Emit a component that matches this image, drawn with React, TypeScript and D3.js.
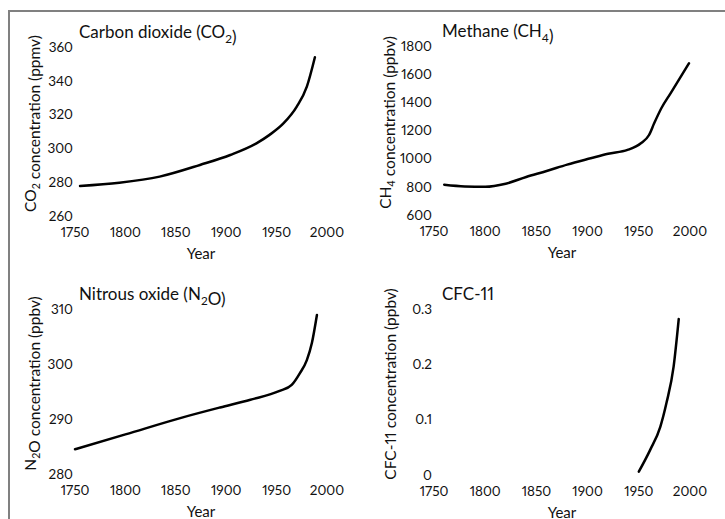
import React, { useEffect, useRef } from "react";
import * as d3 from "d3";

// values
const yearTicks = [1750, 1800, 1850, 1900, 1950, 2000];

const co2Years = [1755, 1794, 1834, 1874, 1904, 1930, 1943, 1957, 1970, 1980, 1988];
const co2Values = [277.8, 279.7, 283.3, 290.2, 296.1, 303, 308, 314.9, 324.7, 336.5, 353.9];
const co2Ticks = [260, 280, 300, 320, 340, 360];

const ch4Years = [1760, 1780, 1800, 1820, 1840, 1860, 1880, 1903, 1920, 1939, 1952, 1960, 1965, 1972, 1981, 1999];
const ch4Values = [815, 803, 800, 822, 870, 912, 958, 1003, 1035, 1062, 1109, 1168, 1251, 1358, 1464, 1677];
const ch4Ticks = [600, 800, 1000, 1200, 1400, 1600, 1800];

const n2oYears = [1750, 1800, 1857, 1894, 1924, 1953, 1965, 1973, 1980, 1985, 1990];
const n2oValues = [284.5, 287.2, 290.3, 292.1, 293.5, 295.1, 296.2, 298.3, 300.7, 303.8, 308.9];
const n2oTicks = [280, 290, 300, 310];

const cfcYears = [1950, 1961, 1971, 1977, 1984, 1989];
const cfcValues = [0.006, 0.045, 0.087, 0.13, 0.196, 0.282];
const cfcTicks = [0, 0.1, 0.2, 0.3];

const FONT = "Lato, 'Open Sans', sans-serif";

type Part = { t: string; sub?: boolean };

const App = () => {
  const svgRef = useRef<SVGSVGElement>(null);

  useEffect(() => {
    const svg = d3.select(svgRef.current);
    svg.selectAll("*").remove();

    // frame
    svg
      .append("path")
      .attr("d", "M9,519 L9,11 L725,11")
      .attr("fill", "none")
      .attr("stroke", "#808080")
      .attr("stroke-width", 2);

    const addRich = (sel: any, parts: Part[], size: number) => {
      parts.forEach((p) => {
        if (p.sub) {
          sel.append("tspan").attr("dy", size * 0.3).attr("font-size", size * 0.7).text(p.t);
          sel.append("tspan").attr("dy", -size * 0.3).attr("font-size", size).text("");
        } else {
          sel.append("tspan").attr("font-size", size).text(p.t);
        }
      });
    };

    const panel = (
      years: number[],
      values: number[],
      ticks: number[],
      xr: [number, number],
      yr: [number, number],
      titleX: number,
      yTitleX: number,
      title: Part[],
      yTitle: Part[]
    ) => {
      const x = d3.scaleLinear().domain([1750, 2000]).range(xr);
      const y = d3
        .scaleLinear()
        .domain([ticks[0], ticks[ticks.length - 1]])
        .range(yr);
      const g = svg
        .append("g")
        .attr("font-family", FONT)
        .attr("fill", "#111")
        .style("font-variant-numeric", "proportional-nums");

      g.selectAll(".ytick")
        .data(ticks)
        .join("text")
        .attr("x", xr[0] - 2)
        .attr("y", (d) => y(d))
        .attr("dy", "0.35em")
        .attr("text-anchor", "end")
        .attr("font-size", 13.5)
        .text((d) => String(d));

      g.selectAll(".xtick")
        .data(yearTicks)
        .join("text")
        .attr("x", (d) => x(d))
        .attr("y", yr[0] + 16)
        .attr("dy", "0.35em")
        .attr("text-anchor", "middle")
        .attr("font-size", 13.5)
        .text((d) => String(d));

      g.append("text")
        .attr("x", (xr[0] + xr[1]) / 2)
        .attr("y", yr[0] + 38)
        .attr("dy", "0.35em")
        .attr("text-anchor", "middle")
        .attr("font-size", 15)
        .text("Year");

      const t = g
        .append("text")
        .attr("x", titleX)
        .attr("y", yr[1] - 15)
        .attr("dy", "0.35em");
      addRich(t, title, 17);

      const yt = g
        .append("text")
        .attr("transform", `translate(${yTitleX},${(yr[0] + yr[1]) / 2 - 8}) rotate(-90)`)
        .attr("dy", "0.35em")
        .attr("text-anchor", "middle");
      addRich(yt, yTitle, 15.5);

      const line = d3
        .line<number>()
        .x((d, i) => x(years[i]))
        .y((d) => y(d))
        .curve(d3.curveMonotoneX);

      g.append("path")
        .attr("d", line(values))
        .attr("fill", "none")
        .attr("stroke", "#000")
        .attr("stroke-width", 2.5)
        .attr("stroke-linecap", "round");
    };

    panel(
      co2Years,
      co2Values,
      co2Ticks,
      [75, 327],
      [216, 47],
      79,
      30,
      [{ t: "Carbon dioxide (CO" }, { t: "2", sub: true }, { t: ")" }],
      [{ t: "CO" }, { t: "2", sub: true }, { t: " concentration (ppmv)" }]
    );
    panel(
      ch4Years,
      ch4Values,
      ch4Ticks,
      [434, 690],
      [215, 46],
      442,
      385,
      [{ t: "Methane (CH" }, { t: "4", sub: true }, { t: ")" }],
      [{ t: "CH" }, { t: "4", sub: true }, { t: " concentration (ppbv)" }]
    );
    panel(
      n2oYears,
      n2oValues,
      n2oTicks,
      [75, 327],
      [474, 309],
      79,
      30,
      [{ t: "Nitrous oxide (N" }, { t: "2", sub: true }, { t: "O)" }],
      [{ t: "N" }, { t: "2", sub: true }, { t: "O concentration (ppbv)" }]
    );
    panel(
      cfcYears,
      cfcValues,
      cfcTicks,
      [434, 690],
      [475, 309],
      442,
      390,
      [{ t: "CFC-11" }],
      [{ t: "CFC-11 concentration (ppbv)" }]
    );
  }, []);

  return (
    <svg
      ref={svgRef}
      width={725}
      height={519}
      style={{ position: "absolute", left: 0, top: 0, background: "#fff" }}
    />
  );
};

export default App;
